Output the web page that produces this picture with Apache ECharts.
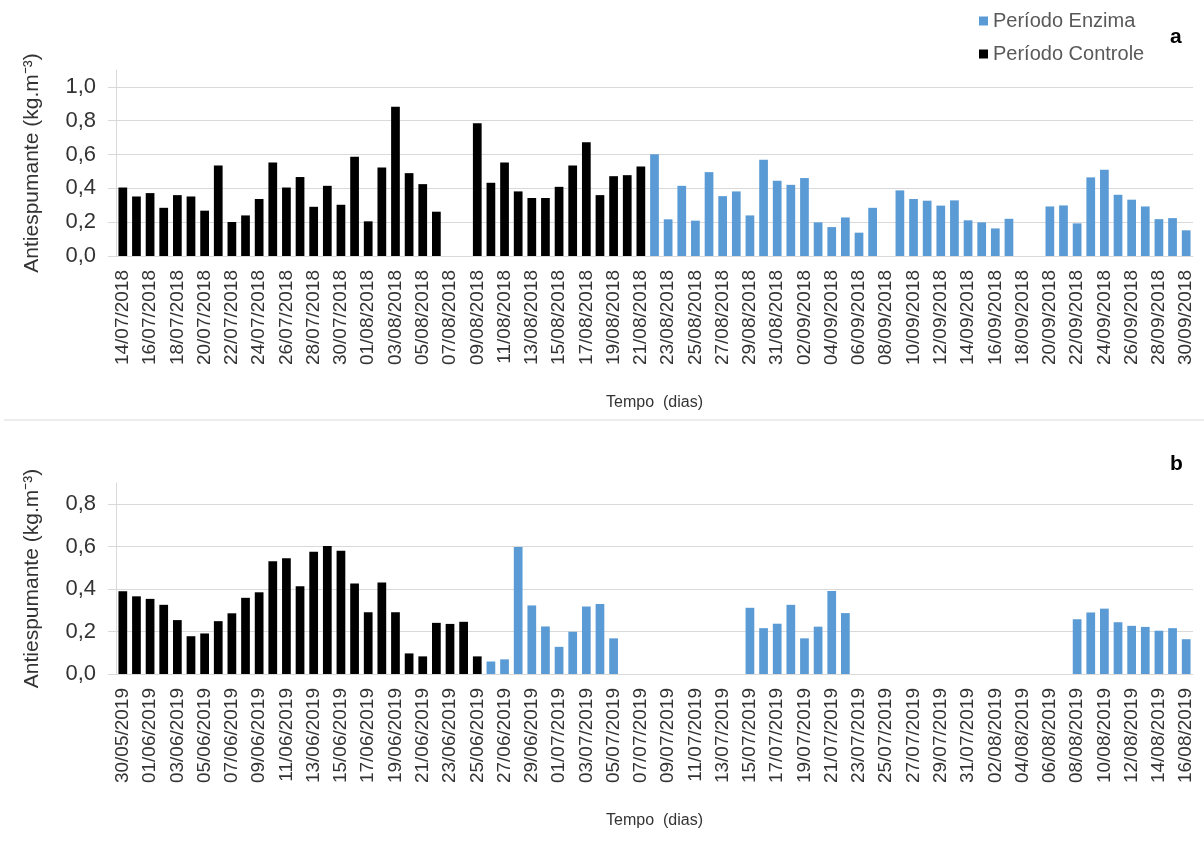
<!DOCTYPE html>
<html>
<head>
<meta charset="utf-8">
<script src="https://cdn.jsdelivr.net/npm/echarts@6/dist/echarts.min.js"></script>
<style>
html,body{margin:0;padding:0;background:#fff;}
#chart{width:1204px;height:841px;}
</style>
</head>
<body>
<div id="chart"></div>
<script>
// ---- Data ----
function dayLabels(y, m, d, n) {
  var out = [];
  for (var i = 0; i < n; i++) {
    var dt = new Date(Date.UTC(y, m - 1, d + i));
    var dd = String(dt.getUTCDate()).padStart(2, '0');
    var mm = String(dt.getUTCMonth() + 1).padStart(2, '0');
    out.push(dd + '/' + mm + '/' + dt.getUTCFullYear());
  }
  return out;
}
var categoriesA = dayLabels(2018, 7, 14, 79);   // 14/07/2018 .. 30/09/2018
var categoriesB = dayLabels(2019, 5, 30, 79);   // 30/05/2019 .. 16/08/2019

var controleA = [
  0.405,0.352,0.372,0.285,0.360,0.352,0.268,0.535,0.201,0.240,
  0.337,0.553,0.405,0.467,0.291,0.415,0.303,0.587,0.205,0.524,
  0.882,0.490,0.425,0.262,null,null,0.785,0.433,0.553,0.382,
  0.343,0.343,0.409,0.535,0.673,0.360,0.472,0.478,0.530,
  null,null,null,null,null,null,null,null,null,null,
  null,null,null,null,null,null,null,null,null,null,
  null,null,null,null,null,null,null,null,null,null,
  null,null,null,null,null,null,null,null,null,null
];
var enzimaA = [
  null,null,null,null,null,null,null,null,null,null,
  null,null,null,null,null,null,null,null,null,null,
  null,null,null,null,null,null,null,null,null,null,
  null,null,null,null,null,null,null,null,null,
  0.602,0.217,0.415,0.209,0.496,0.354,0.382,0.240,0.569,0.445,
  0.421,0.461,0.199,0.171,0.228,0.138,0.285,null,0.388,0.337,
  0.327,0.298,0.329,0.211,0.199,0.163,0.220,null,null,0.293,
  0.299,0.193,0.465,0.510,0.362,0.333,0.293,0.218,0.224,0.152
];
var controleB = [
  0.390,0.366,0.354,0.326,0.254,0.178,0.191,0.249,0.286,0.359,
  0.385,0.531,0.545,0.413,0.576,0.603,0.581,0.426,0.291,0.431,
  0.291,0.097,0.083,0.241,0.236,0.246,0.083,
  null,null,null,null,null,null,null,null,null,null,
  null,null,null,null,null,null,null,null,null,null,
  null,null,null,null,null,null,null,null,null,null,
  null,null,null,null,null,null,null,null,null,null,
  null,null,null,null,null,null,null,null,null,null,
  null,null
];
var enzimaB = [
  null,null,null,null,null,null,null,null,null,null,
  null,null,null,null,null,null,null,null,null,null,
  null,null,null,null,null,null,null,
  0.059,0.069,0.598,0.323,0.224,0.128,0.199,0.318,0.330,0.168,
  null,null,null,null,null,null,null,null,null,
  0.312,0.216,0.237,0.326,0.168,0.223,0.391,0.287,
  null,null,null,null,null,null,null,null,null,null,
  null,null,null,null,null,null,
  0.258,0.290,0.308,0.244,0.227,0.222,0.204,0.216,0.164
];
var yTicksA = [0, 0.2, 0.4, 0.6, 0.8, 1.0];
var yTicksB = [0, 0.2, 0.4, 0.6, 0.8];

var seriesNames = ['Período Enzima', 'Período Controle'];
var yTitle = 'Antiespumante (kg.m⁻³)';
var xTitle = 'Tempo  (dias)';

// ---- Styles ----
var FONT = "'Liberation Sans', Arial, sans-serif";
var BLUE = '#5b9bd5';
var BLACK = '#000000';
var GRID = '#d9d9d9';
var TXT = '#333333';

function fmt(v) { return v.toFixed(1).replace('.', ','); }

function xAxisCfg(idx, cats) {
  return {
    type: 'category', gridIndex: idx, data: cats,
    axisLine: { lineStyle: { color: GRID, width: 1 } },
    axisTick: { show: false },
    axisLabel: { interval: 1, rotate: 90, fontSize: 19, color: TXT, fontFamily: FONT, margin: 14 },
    name: xTitle, nameLocation: 'middle', nameGap: 139,
    nameTextStyle: { fontSize: 16, color: TXT, fontFamily: FONT }
  };
}
function yAxisCfg(idx, max, ticks) {
  return {
    type: 'value', gridIndex: idx, min: 0, max: max, interval: 0.2,
    axisLine: { show: true, lineStyle: { color: GRID, width: 1 } },
    axisTick: { show: true, length: 8, lineStyle: { color: GRID }, customValues: ticks },
    splitLine: { show: true, lineStyle: { color: GRID, width: 1 } },
    axisLabel: { fontSize: 22, color: TXT, fontFamily: FONT, margin: 20,
      customValues: ticks, formatter: fmt },
    name: yTitle, nameLocation: 'middle', nameGap: 73,
    nameTextStyle: { fontSize: 21, color: TXT, fontFamily: FONT }
  };
}
function barSeries(name, color, idx, data) {
  return {
    name: name, type: 'bar', xAxisIndex: idx, yAxisIndex: idx, data: data,
    barGap: '-100%', barCategoryGap: '36%',
    itemStyle: { color: color }, silent: true, animation: false
  };
}

var chart = echarts.init(document.getElementById('chart'), null, { renderer: 'canvas' });
chart.setOption({
  backgroundColor: '#ffffff',
  animation: false,
  textStyle: { fontFamily: FONT },
  legend: {
    data: seriesNames, orient: 'vertical', left: 974, top: 6,
    itemWidth: 9, itemHeight: 9, itemGap: 13, icon: 'rect',
    textStyle: { fontSize: 20, color: '#595959', fontFamily: FONT }
  },
  grid: [
    { left: 116, right: 11, top: 70, height: 186 },
    { left: 116, right: 11, top: 483, height: 191 }
  ],
  xAxis: [xAxisCfg(0, categoriesA), xAxisCfg(1, categoriesB)],
  yAxis: [yAxisCfg(0, 1.1, yTicksA), yAxisCfg(1, 0.9, yTicksB)],
  series: [
    barSeries(seriesNames[0], BLUE, 0, enzimaA),
    barSeries(seriesNames[1], BLACK, 0, controleA),
    barSeries(seriesNames[0], BLUE, 1, enzimaB),
    barSeries(seriesNames[1], BLACK, 1, controleB)
  ],
  graphic: [
    { type: 'line', shape: { x1: 4, y1: 420, x2: 1204, y2: 420 }, style: { stroke: GRID, lineWidth: 1 }, silent: true },
    { type: 'text', left: 1170, top: 27, style: { text: 'a', font: 'bold 21px ' + FONT, fill: '#000' } },
    { type: 'text', left: 1170, top: 454, style: { text: 'b', font: 'bold 21px ' + FONT, fill: '#000' } }
  ]
});
</script>
</body>
</html>
